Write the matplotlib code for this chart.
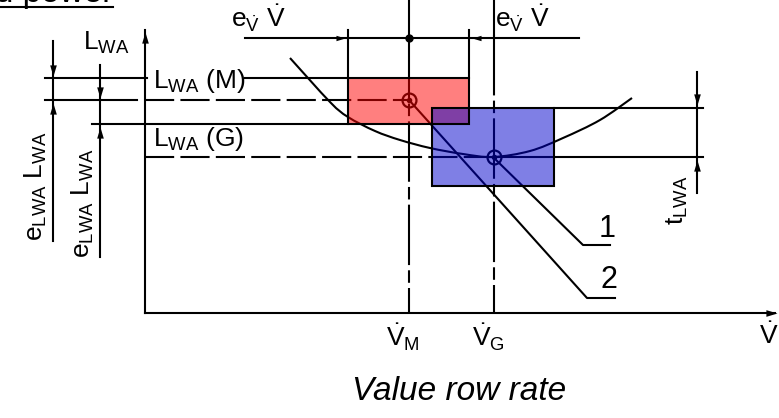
import matplotlib
matplotlib.use("Agg")
import matplotlib.pyplot as plt
import numpy as np
from matplotlib.patches import Rectangle, PathPatch
from matplotlib.path import Path

plt.rcParams["mathtext.fontset"] = "custom"
plt.rcParams["mathtext.rm"] = "Liberation Sans"
plt.rcParams["mathtext.it"] = "Liberation Sans:italic"
plt.rcParams["mathtext.default"] = "rm"

# operating points (volume flow V, sound power L), axis origin at (0, 0)
V_M, V_G = 264, 349
L_M, L_G = 213, 156

# tolerance boxes: (V_left, V_right, L_bottom, L_top)
red_box = (203, 324, 189, 235)
blue_box = (287, 409, 127, 205)

# characteristic curve
curve_V = [145, 185, 203, 230, 255, 285, 318, 348, 385, 418, 455, 487]
curve_L = [255, 211, 196, 182, 173, 165, 159, 156, 162, 175, 193, 215]

# leader lines 1 and 2
lead1_V = [348, 438, 465]
lead1_L = [156, 68, 68]
lead2_V = [264, 442, 470]
lead2_L = [213, 15, 15]

fig = plt.figure(figsize=(7.79, 4.18), dpi=100)
ax = fig.add_axes([0, 0, 1, 1])
ax.set_xlim(-145, 634)
ax.set_ylim(-105, 313)
ax.axis("off")

lw = 1.5
k = "black"
dashed = (0, (14, 3))
dashdot = (0, (29, 2.5, 6, 2.5))

head_up = [(0, 0), (-0.3, -1), (0.3, -1), (0, 0)]
head_dn = [(0, 0), (-0.3, 1), (0.3, 1), (0, 0)]
head_rt = [(0, 0), (-1, -0.3), (-1, 0.3), (0, 0)]
head_lt = [(0, 0), (1, -0.3), (1, 0.3), (0, 0)]


def head(x, y, m, ms=16):
    ax.plot(x, y, marker=m, ms=ms, color=k, mec=k, mew=0, ls="none", zorder=5)


def smooth_path(xs, ys):
    # Catmull-Rom through the read points, drawn as cubic Bezier segments
    p = np.column_stack([xs, ys]).astype(float)
    p = np.vstack([p[0], p, p[-1]])
    verts = [p[1]]
    codes = [Path.MOVETO]
    for i in range(1, len(p) - 2):
        c1 = p[i] + (p[i + 1] - p[i - 1]) / 6
        c2 = p[i + 1] - (p[i + 2] - p[i]) / 6
        verts += [c1, c2, p[i + 1]]
        codes += [Path.CURVE4] * 3
    return Path(verts, codes)


# axes
ax.plot([0, 0], [0, 283], color=k, lw=lw)
ax.plot([0, 630], [0, 0], color=k, lw=lw)
head(0, 281, head_up)
head(632, 0, head_rt)

# horizontal reference lines
ax.plot([-100, 2], [235, 235], color=k, lw=lw)
ax.plot([100, red_box[0]], [235, 235], color=k, lw=lw)
ax.plot([-100, -8], [L_M, L_M], color=k, lw=lw)
ax.plot([0, V_M], [L_M, L_M], color=k, lw=lw, ls=dashed)
ax.plot([-53, red_box[0]], [189, 189], color=k, lw=lw)
ax.plot([0, V_G], [L_G, L_G], color=k, lw=lw, ls=dashed)
ax.plot([V_G, 558], [L_G, L_G], color=k, lw=lw)
ax.plot([blue_box[1], 558], [205, 205], color=k, lw=lw)

# vertical reference lines
ax.plot([V_M, V_M], [313, 275], color=k, lw=lw)
ax.plot([V_M, V_M], [275, 0], color=k, lw=lw, ls=dashdot)
ax.plot([V_G, V_G], [313, 278], color=k, lw=lw)
ax.plot([V_G, V_G], [278, 0], color=k, lw=lw, ls=dashdot)

# top dimension e_V V
ax.plot([100, 434], [275, 275], color=k, lw=lw)
ax.plot([red_box[0]] * 2, [283, 235], color=k, lw=lw)
ax.plot([red_box[1]] * 2, [283, 235], color=k, lw=lw)
head(200, 275, head_rt, 13)
head(327, 275, head_lt, 13)
ax.plot(V_M, 275, "o", color=k, ms=5)

# left dimensions
ax.plot([-92, -92], [272, 72], color=k, lw=lw)
head(-92, 237, head_dn)
head(-92, 210, head_up)
ax.plot([-45, -45], [248, 56], color=k, lw=lw)
head(-45, 215, head_dn)
head(-45, 186, head_up)

# right dimension t_LWA
ax.plot([552, 552], [241, 120], color=k, lw=lw)
head(552, 208, head_dn)
head(552, 153, head_up)

# curve and leader lines
ax.add_patch(PathPatch(smooth_path(curve_V, curve_L), fc="none", ec=k, lw=lw, zorder=3))
ax.plot(lead1_V, lead1_L, color=k, lw=lw)
ax.plot(lead2_V, lead2_L, color=k, lw=lw)

# operating point rings
for v, l in [(V_M, L_M), (V_G, L_G)]:
    ax.plot(v, l, "o", mfc="none", mec=k, mew=1.6, ms=10, zorder=4)
    ax.plot(v, l, "o", color=k, ms=3, zorder=4)

# tolerance boxes
for (x0, x1, y0, y1), c in [(red_box, (1, 0, 0)), (blue_box, (0, 0, 0.8))]:
    ax.add_patch(Rectangle((x0, y0), x1 - x0, y1 - y0, fc=c, alpha=0.5, ec="none", zorder=6))
    ax.add_patch(Rectangle((x0, y0), x1 - x0, y1 - y0, fc="none", ec=k, lw=lw, zorder=7))

# labels
fs = 19
ax.text(-39, 270, r"$L_{WA}$", fontsize=fs, ha="center", va="center")
ax.text(8, 232, r"$L_{WA}\ (M)$", fontsize=fs, ha="left", va="center")
ax.text(8, 174, r"$L_{WA}\ (G)$", fontsize=fs, ha="left", va="center")
ax.text(-109, 127, r"$e_{LWA}\ L_{WA}$", fontsize=fs, rotation=90, ha="center", va="center")
ax.text(-62, 110, r"$e_{LWA}\ L_{WA}$", fontsize=fs, rotation=90, ha="center", va="center")
ax.text(532, 113, r"$t_{LWA}$", fontsize=fs, rotation=90, ha="center", va="center")
ax.text(462, 84, "1", fontsize=22, family="Liberation Sans", ha="center", va="center")
ax.text(464, 33, "2", fontsize=22, family="Liberation Sans", ha="center", va="center")
ax.text(113, 295, r"$e_{\dot{V}}\ \dot{V}$", fontsize=fs, ha="center", va="center")
ax.text(377, 295, r"$e_{\dot{V}}\ \dot{V}$", fontsize=fs, ha="center", va="center")
ax.text(258, -24, r"$\dot{V}_M$", fontsize=fs, ha="center", va="center")
ax.text(343, -24, r"$\dot{V}_G$", fontsize=fs, ha="center", va="center")
ax.text(633, -24, r"$\dot{V}$", fontsize=fs, ha="right", va="center")

ax.text(314, -87, "Value row rate", fontsize=24, style="italic",
        family="Liberation Sans", ha="center", va="baseline")
ax.text(-32, 311, "Sound power", fontsize=24, family="Liberation Sans",
        ha="right", va="baseline")
ax.plot([-145, -32], [306, 306], color=k, lw=1.5)

fig.savefig("out.png", dpi=100)
